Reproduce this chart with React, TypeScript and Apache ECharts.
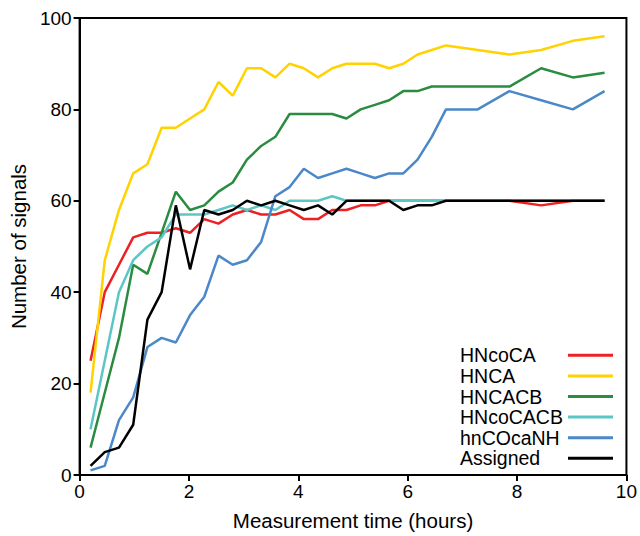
import React, { useEffect, useRef } from "react";
import * as echarts from "echarts";

const times = [
  0.2, 0.46, 0.72, 0.98, 1.24, 1.5, 1.76, 2.02, 2.28, 2.54, 2.8, 3.06, 3.32, 3.58, 3.84, 4.1,
  4.36, 4.62, 4.88, 5.14, 5.4, 5.66, 5.92, 6.18, 6.44, 6.7, 7.28, 7.86, 8.44, 9.02, 9.6,
];

const hncoca = [25, 40, 46, 52, 53, 53, 54, 53, 56, 55, 57, 58, 57, 57, 58, 56, 56, 58, 58, 59, 59, 60, 60, 60, 60, 60, 60, 60, 59, 60, 60];
const hnca = [18, 47, 58, 66, 68, 76, 76, 78, 80, 86, 83, 89, 89, 87, 90, 89, 87, 89, 90, 90, 90, 89, 90, 92, 93, 94, 93, 92, 93, 95, 96];
const hncacb = [6, 18, 30, 46, 44, 53, 62, 58, 59, 62, 64, 69, 72, 74, 79, 79, 79, 79, 78, 80, 81, 82, 84, 84, 85, 85, 85, 85, 89, 87, 88];
const hncocacb = [10, 25, 40, 47, 50, 52, 57, 57, 57, 58, 59, 58, 59, 58, 60, 60, 60, 61, 60, 60, 60, 60, 60, 60, 60, 60, 60, 60, 60, 60, 60];
const hncocanh = [1, 2, 12, 17, 28, 30, 29, 35, 39, 48, 46, 47, 51, 61, 63, 67, 65, 66, 67, 66, 65, 66, 66, 69, 74, 80, 80, 84, 82, 80, 84];
const assigned = [2, 5, 6, 11, 34, 40, 59, 45, 58, 57, 58, 60, 59, 60, 59, 58, 59, 57, 60, 60, 60, 60, 58, 59, 59, 60, 60, 60, 60, 60, 60];

const seriesNames = ["HNcoCA", "HNCA", "HNCACB", "HNcoCACB", "hnCOcaNH", "Assigned"];
const seriesValues = [hncoca, hnca, hncacb, hncocacb, hncocanh, assigned];
const seriesColors = ["#ED2024", "#FFD200", "#2A8C40", "#5BC6C4", "#4A88C8", "#000000"];

const xTicks = [0, 2, 4, 6, 8, 10];
const yTicks = [0, 20, 40, 60, 80, 100];

const FONT = "'Liberation Sans', Arial, sans-serif";

export default function App() {
  const ref = useRef<HTMLDivElement>(null);
  useEffect(() => {
    if (!ref.current) return;
    const chart = echarts.init(ref.current, undefined, { renderer: "svg" });
    chart.setOption({
      animation: false,
      backgroundColor: "#ffffff",
      textStyle: { fontFamily: FONT },
      grid: {
        left: 77,
        right: 11,
        top: 18,
        bottom: 59,
        show: true,
        borderColor: "#000",
        borderWidth: 2,
        containLabel: false,
      },
      xAxis: {
        type: "value",
        min: xTicks[0],
        max: xTicks[xTicks.length - 1],
        interval: 2,
        name: "Measurement time (hours)",
        nameLocation: "middle",
        nameGap: 35,
        nameTextStyle: { fontSize: 20.5, color: "#000", fontFamily: FONT },
        axisLine: { show: true, lineStyle: { color: "#000", width: 2 } },
        axisTick: { show: true, inside: false, length: 6, lineStyle: { color: "#000", width: 2 } },
        axisLabel: { fontSize: 19, color: "#000", margin: 7, fontFamily: FONT },
        splitLine: { show: false },
      },
      yAxis: {
        type: "value",
        min: yTicks[0],
        max: yTicks[yTicks.length - 1],
        interval: 20,
        name: "Number of signals",
        nameLocation: "middle",
        nameGap: 49,
        nameTextStyle: { fontSize: 20.5, color: "#000", fontFamily: FONT },
        axisLine: { show: true, lineStyle: { color: "#000", width: 2 } },
        axisTick: { show: true, inside: false, length: 6, lineStyle: { color: "#000", width: 2 } },
        axisLabel: { fontSize: 19, color: "#000", margin: 8, fontFamily: FONT },
        splitLine: { show: false },
      },
      legend: {
        orient: "vertical",
        left: 460,
        top: 345,
        padding: 0,
        itemGap: 0,
        align: "right",
        icon: "rect",
        itemWidth: 45,
        itemHeight: 3,
        data: seriesNames,
        formatter: (name: string) => `{t|${name}}`,
        textStyle: {
          fontSize: 19.5,
          color: "#000",
          fontFamily: FONT,
          lineHeight: 20.6,
          rich: {
            t: {
              width: 103,
              align: "left",
              fontSize: 19.5,
              lineHeight: 20.6,
              fontFamily: FONT,
              color: "#000",
            },
          },
        },
      },
      series: seriesNames.map((name, i) => ({
        name,
        type: "line",
        symbol: "none",
        showSymbol: false,
        color: seriesColors[i],
        lineStyle: { width: 2.5, color: seriesColors[i] },
        data: times.map((t, k) => [t, seriesValues[i][k]]),
        z: 2 + i,
      })),
    });
    return () => chart.dispose();
  }, []);
  return (
    <div
      ref={ref}
      style={{ position: "fixed", left: 0, top: 0, width: 640, height: 536, background: "#fff" }}
    />
  );
}
